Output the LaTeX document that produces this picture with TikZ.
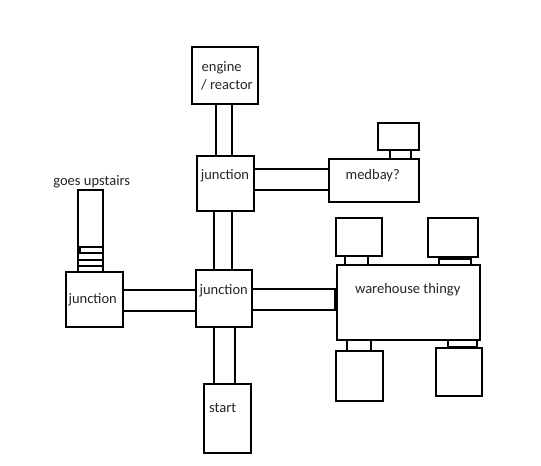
\documentclass[tikz,border=0pt]{standalone}
\usepackage{fontspec}
\setmainfont{Carlito}
\tikzset{
  room/.style={draw=black,fill=white,line width=1.5pt,inner sep=0pt,outer sep=0pt},
  corridor/.style={draw=black,line width=1.5pt},
  stair/.style={draw=black,line width=1.5pt},
  lbl/.style={anchor=base,inner sep=0pt,outer sep=0pt,font=\fontsize{10.9}{13}\selectfont,text=black!85}
}
\newcommand{\roomnode}[5]{\node[room,minimum width={(#4-#2)*0.75pt},minimum height={(#5-#3)*0.75pt}] (#1) at ({(#2+#4)/2},{-(#3+#5)/2}) {};}
% vertical corridor: two walls at x=#3,#4 between upper node #1 and lower node #2
\newcommand{\vcorr}[4]{\draw[corridor] (#1.south -| #3,0) -- (#2.north -| #3,0); \draw[corridor] (#1.south -| #4,0) -- (#2.north -| #4,0);}
% horizontal corridor: two walls at y=#3,#4 between left node #1 and right node #2
\newcommand{\hcorr}[4]{\draw[corridor] (#1.east |- 0,-#3) -- (#2.west |- 0,-#3); \draw[corridor] (#1.east |- 0,-#4) -- (#2.west |- 0,-#4);}
\begin{document}
\begin{tikzpicture}[x=0.75pt,y=0.75pt]
\useasboundingbox[fill=white] (0,0) rectangle (541,-465);
% rooms
\roomnode{engine}{192}{47}{258}{104}
\roomnode{jtop}{197}{156}{254}{211}
\roomnode{jcen}{196}{270}{252}{327}
\roomnode{jleft}{66}{272}{123}{327}
\roomnode{start}{204}{384}{251}{453}
\roomnode{medbay}{329}{159}{419}{202}
\roomnode{medroom}{378}{123}{419}{150}
\roomnode{ware}{337}{265}{480}{340}
\roomnode{wa}{336}{218}{382}{256}
\roomnode{wb}{428}{218}{478}{257}
\roomnode{wc}{336}{351}{383}{401}
\roomnode{wd}{436}{348}{482}{396}
\roomnode{stairs}{78}{190}{103}{272}
% corridors
\vcorr{engine}{jtop}{216}{232}
\vcorr{jtop}{jcen}{214}{232}
\vcorr{jcen}{start}{214}{235}
\hcorr{jtop}{medbay}{169}{190}
\hcorr{jleft}{jcen}{290}{311}
\hcorr{jcen}{ware}{289}{310}
\draw[line width=1.5pt] (ware.west |- 0,-289) ++(-2,0) -- ++(0,-21);
\vcorr{medroom}{medbay}{390}{411}
\vcorr{wa}{ware}{345}{368}
\vcorr{wb}{ware}{439}{471}
\vcorr{ware}{wc}{347}{371}
\vcorr{ware}{wd}{448}{477}
\draw[corridor] (wb.south -| 439,0) ++(0,-2) -- ++(32,0);
\draw[corridor] (wd.north -| 448,0) ++(0,1) -- ++(29,0);
% stairs
\foreach \y in {247,253,260,266} \draw[stair] (stairs.west |- 0,-\y) -- (stairs.east |- 0,-\y);
\draw[stair] (stairs.west |- 0,-247) ++(2,0) -- ++(0,-6);
% labels
\node[lbl] (t1) at (221.7,-71.7) {engine};
\node[lbl] (t2) at (227,-89) {/ reactor};
\node[lbl] (t3) at (225,-179.3) {junction};
\node[lbl] (t4) at (372.7,-179.3) {medbay?};
\node[lbl] (t5) at (407.7,-293) {warehouse thingy};
\node[lbl] (t6) at (223.7,-294.7) {junction};
\node[lbl] (t7) at (222.7,-412.7) {start};
\node[lbl] (t8) at (92.7,-303.3) {junction};
\node[lbl] (t9) at (91.7,-185.7) {goes upstairs};
\end{tikzpicture}
\end{document}
